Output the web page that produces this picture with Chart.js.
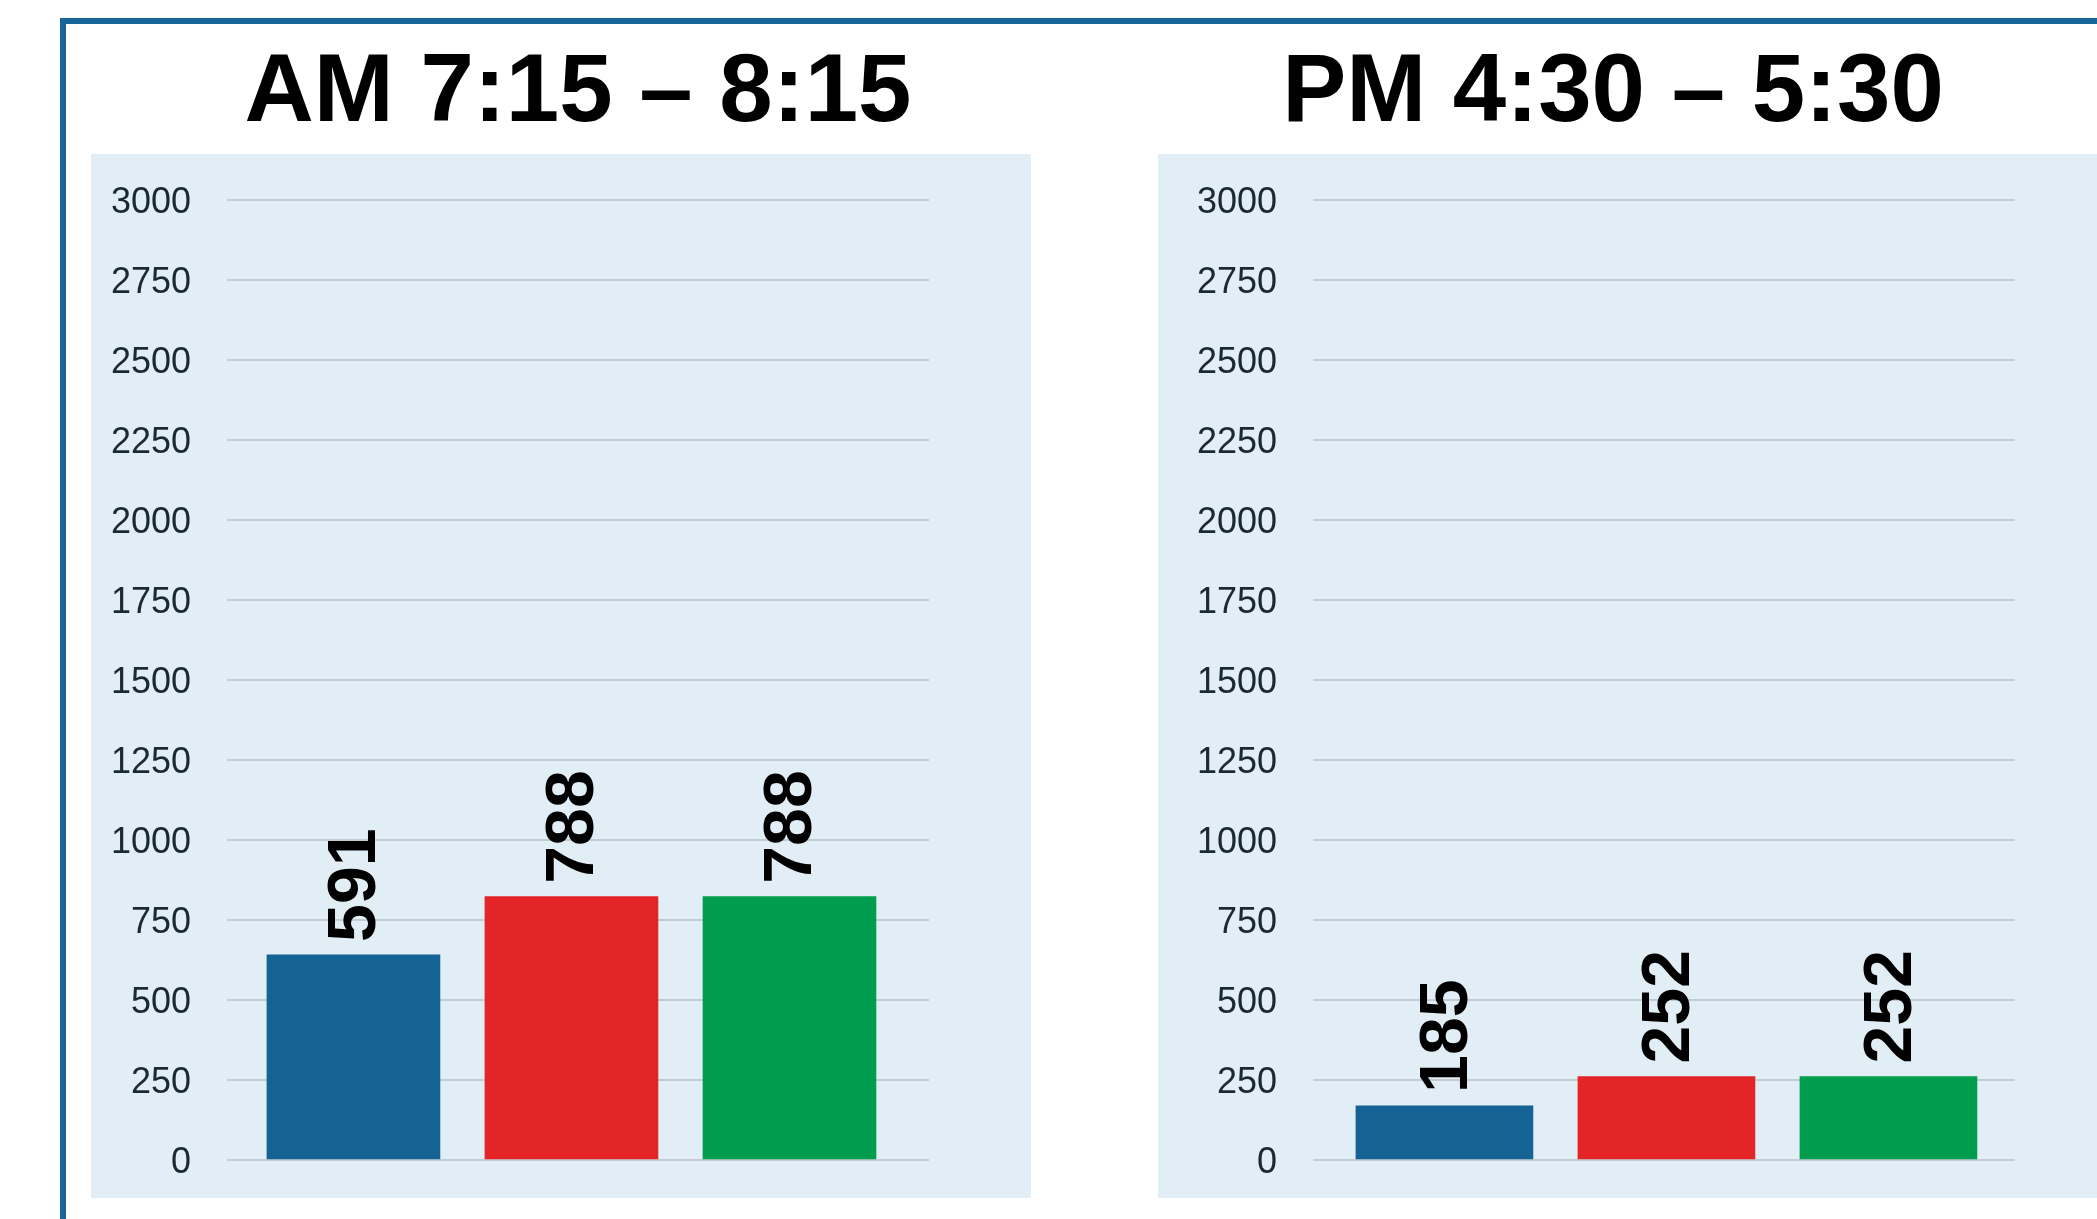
<!DOCTYPE html>
<html>
<head>
<meta charset="utf-8">
<title>AM / PM counts</title>
<script src="https://cdn.jsdelivr.net/npm/chart.js@4.4.1/dist/chart.umd.min.js"></script>
<style>
  html, body { margin: 0; padding: 0; background: #fff; }
  body { width: 2097px; height: 1219px; position: relative; overflow: hidden; }
  .frame { position: absolute; left: 60px; top: 18px; width: 2200px; height: 1400px;
           border-left: 6px solid #17659a; border-top: 6px solid #17659a; }
  .panel { position: absolute; top: 154px; height: 1044px; background: #e1eef5; }
  canvas { position: absolute; top: 0; }
</style>
</head>
<body>
<div class="frame"></div>
<div class="panel" style="left:91px;width:940px"></div>
<div class="panel" style="left:1158px;width:939px"></div>
<canvas id="amChart" width="838" height="1219" style="left:91px;width:838px;height:1219px"></canvas>
<canvas id="pmChart" width="910" height="1219" style="left:1158px;width:910px;height:1219px"></canvas>

<script>
// data
// (the printed numbers don't match the bar heights in the original, so both are kept)
const categories = ['Bar 1', 'Bar 2', 'Bar 3'];
const amValues = [641, 823, 823];
const pmValues = [169, 261, 261];
const amLabels = ['591', '788', '788'];
const pmLabels = ['185', '252', '252'];
const yTicks = [0, 250, 500, 750, 1000, 1250, 1500, 1750, 2000, 2250, 2500, 2750, 3000];
const barColors = ['#156394', '#e32528', '#009d4f'];

// rotated value text above each bar
const barText = {
    id: 'barText',
    afterDatasetsDraw(chart, args, opts) {
        const ctx = chart.ctx;
        chart.getDatasetMeta(0).data.forEach((bar, i) => {
            ctx.save();
            ctx.translate(bar.x + opts.shift, bar.y - opts.gap);
            ctx.rotate(-Math.PI / 2);
            ctx.font = 'bold 68px "Liberation Sans", Arial, sans-serif';
            ctx.fillStyle = '#000';
            ctx.textAlign = 'left';
            ctx.textBaseline = 'middle';
            ctx.fillText(opts.labels[i], 0, 0);
            ctx.restore();
        });
    }
};

function yAxis(width) {
    return {
        min: 0,
        max: 3000,
        afterBuildTicks: s => { s.ticks = yTicks.map(v => ({ value: v })); },
        afterFit: s => { s.width = width; },
        border: { display: false },
        grid: { color: '#c1ccd3', lineWidth: 2, drawTicks: false },
        ticks: {
            padding: 36,
            labelOffset: 3,
            color: '#1b2931',
            callback: v => String(v),
            font: { family: '"Liberation Sans Narrow", "Arial Narrow", "Liberation Sans", sans-serif', size: 36 }
        }
    };
}

function titleOpts(text, fullSize) {
    return {
        display: true,
        text: text,
        color: '#000',
        fullSize: fullSize,
        font: { family: '"Liberation Sans", Arial, sans-serif', size: 96, weight: 'bold' },
        padding: { top: 37, bottom: 48 }
    };
}

// AM chart
const ctx1 = document.getElementById('amChart').getContext('2d');
const amChart = new Chart(ctx1, {
    type: 'bar',
    data: {
        datasets: [{
            data: categories.map((c, i) => ({ x: i, y: amValues[i] })),
            backgroundColor: barColors,
            barThickness: 173
        }]
    },
    options: {
        responsive: false,
        animation: false,
        devicePixelRatio: 1,
        layout: { padding: { top: 0, left: 0, right: 0, bottom: 59 } },
        scales: {
            x: { type: 'linear', offset: false, min: -0.58, max: 2.64, display: false },
            y: yAxis(136)
        },
        plugins: {
            legend: { display: false },
            tooltip: { enabled: false },
            title: titleOpts('AM 7:15 – 8:15', false),
            barText: { labels: amLabels, gap: 13, shift: 3 }
        }
    },
    plugins: [barText]
});

// PM chart - its heading sits left of the plot centre, so an empty
// right-hand axis is used as spacer to keep the title where it belongs
const ctx2 = document.getElementById('pmChart').getContext('2d');
const pmChart = new Chart(ctx2, {
    type: 'bar',
    data: {
        datasets: [{
            data: categories.map((c, i) => ({ x: i, y: pmValues[i] })),
            backgroundColor: barColors,
            barThickness: 177
        }]
    },
    options: {
        responsive: false,
        animation: false,
        devicePixelRatio: 1,
        layout: { padding: { top: 0, left: 0, right: 0, bottom: 59 } },
        scales: {
            x: { type: 'linear', offset: false, min: -0.592, max: 2.57, display: false },
            y: yAxis(155),
            spacer: {
                type: 'linear',
                position: 'right',
                ticks: { display: false },
                grid: { display: false },
                border: { display: false },
                afterFit: s => { s.width = 53; }
            }
        },
        plugins: {
            legend: { display: false },
            tooltip: { enabled: false },
            title: titleOpts('PM 4:30 – 5:30', true),
            barText: { labels: pmLabels, gap: 13, shift: 4 }
        }
    },
    plugins: [barText]
});
</script>
</body>
</html>
